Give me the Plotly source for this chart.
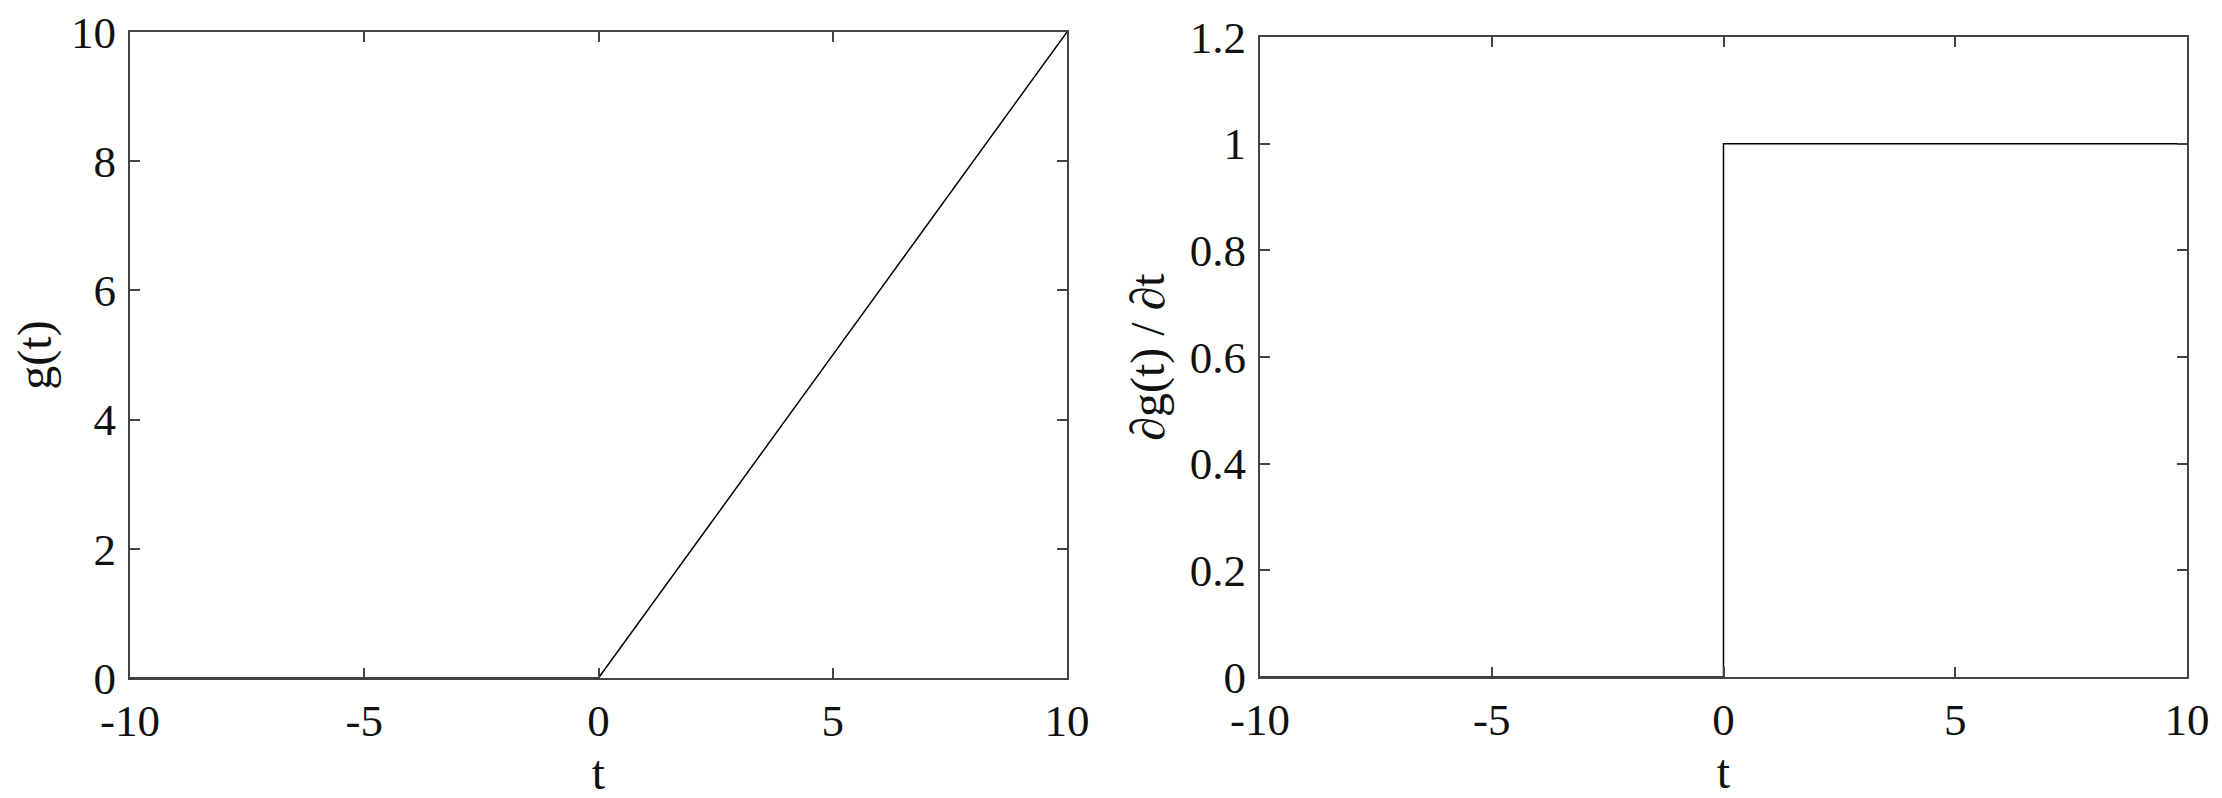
import plotly.graph_objects as go

# data
t = [-10, 0, 10]
g = [0, 0, 10]
dg = [0, 1, 1]

x_ticks = [-10, -5, 0, 5, 10]
x_labels = ["-10", "-5", "0", "5", "10"]
g_ticks = [0, 2, 4, 6, 8, 10]
g_labels = ["0", "2", "4", "6", "8", "10"]
dg_ticks = [0, 0.2, 0.4, 0.6, 0.8, 1, 1.2]
dg_labels = ["0", "0.2", "0.4", "0.6", "0.8", "1", "1.2"]

FONT = "Liberation Serif"
W, H = 2222, 798
OFF = 8  # page body margin shifts the figure by this much

fig = go.Figure()
fig.add_trace(go.Scatter(x=t, y=g, mode="lines", line=dict(color="black", width=1.5),
                         xaxis="x", yaxis="y", showlegend=False))
fig.add_trace(go.Scatter(x=t, y=dg, mode="lines", line=dict(color="black", width=1.5, shape="hv"),
                         xaxis="x2", yaxis="y2", showlegend=False))

axis_common = dict(
    showgrid=False, zeroline=False, showline=True, linecolor="#444", linewidth=2,
    mirror="ticks", ticks="inside", ticklen=10, tickwidth=1.5, tickcolor="#444",
    tickfont=dict(family=FONT, size=45, color="#111"), automargin=False,
    ticklabeloverflow="allow",
)
title_font = dict(family=FONT, size=48, color="#111")


def px_x(a, b):
    return [(a - OFF) / W, (b - OFF) / W]


def px_y(top, bottom):
    return [1 - (bottom - OFF) / H, 1 - (top - OFF) / H]


fig.update_layout(
    width=W, height=H,
    margin=dict(l=0, r=0, t=0, b=0),
    paper_bgcolor="white", plot_bgcolor="white",
    font=dict(family=FONT, color="#111"),
    xaxis=dict(domain=px_x(130, 1067), range=[-10, 10], anchor="y",
               tickvals=x_ticks, ticktext=x_labels, ticklabelstandoff=2,
               title=dict(text="t", font=title_font, standoff=8),
               **axis_common),
    yaxis=dict(domain=px_y(32, 678), range=[0, 10], anchor="x",
               tickvals=g_ticks, ticktext=g_labels, ticklabelstandoff=3,
               title=dict(text="g(t)", font=title_font, standoff=24),
               **axis_common),
    xaxis2=dict(domain=px_x(1260, 2187), range=[-10, 10], anchor="y2",
                tickvals=x_ticks, ticktext=x_labels, ticklabelstandoff=2,
                title=dict(text="t", font=title_font, standoff=8),
                **axis_common),
    yaxis2=dict(domain=px_y(37, 677), range=[0, 1.2], anchor="x2",
                tickvals=dg_ticks, ticktext=dg_labels, ticklabelstandoff=3,
                title=dict(text="∂g(t) / ∂t", font=title_font, standoff=10),
                **axis_common),
)

fig.write_html("out.html")
